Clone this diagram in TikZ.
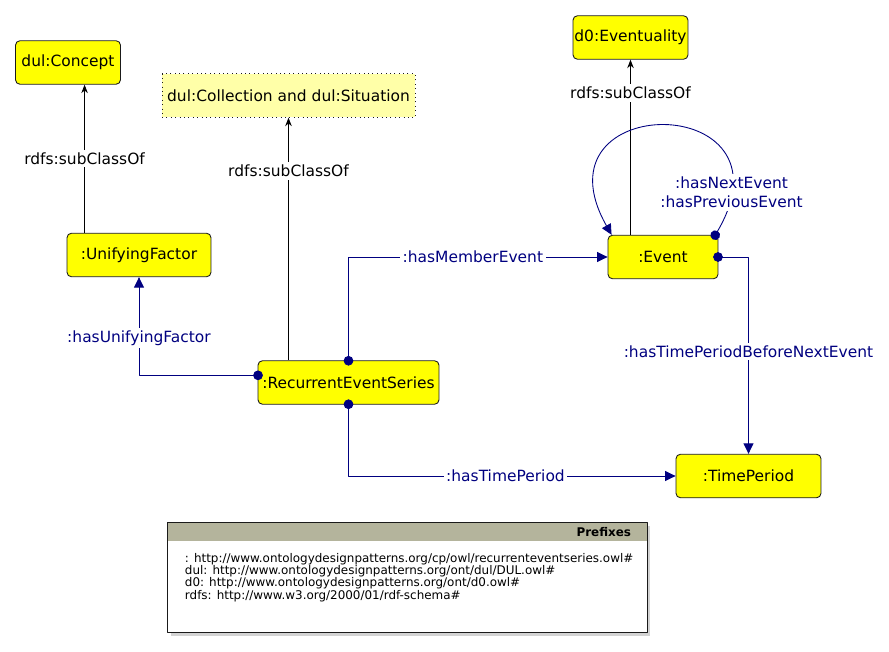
\documentclass[tikz,border=0pt]{standalone}
\usepackage{fontspec}
\setmainfont{DejaVu Sans}
\usepackage{tikz}
\usetikzlibrary{arrows.meta,positioning,calc,shadows}
\definecolor{ink}{HTML}{1A1A1A}
\definecolor{propcol}{HTML}{000080}
\definecolor{classfill}{HTML}{FFFF00}
\definecolor{anonfill}{HTML}{FFFFA8}
\definecolor{hdrcol}{HTML}{B4B49C}

\begin{document}
\begin{tikzpicture}[x=0.02cm, y=-0.02cm,
  font=\fontsize{8.8}{11}\selectfont, line join=round,
  cls/.style={draw=ink, fill=classfill, rounded corners=2.5pt, line width=0.5pt,
              minimum height=0.87cm, inner sep=0pt},
  anon/.style={cls, fill=anonfill, dotted, rounded corners=0pt},
  sub/.style={draw=black, line width=0.5pt, -{Stealth[length=1.7mm, width=1.3mm]}},
  prop/.style={draw=propcol, line width=0.5pt, shorten <=-3pt,
               {Circle[length=5.5pt]}-{Triangle[length=2.1mm, width=2mm]}},
  lbl/.style={fill=white, inner sep=1.5pt, text=black},
  plbl/.style={lbl, text=propcol},
  prefixbox/.style={draw=ink, fill=white, line width=0.5pt, inner sep=0pt,
                    drop shadow={shadow xshift=2pt, shadow yshift=-2pt, opacity=0.35},
                    path picture={\fill[hdrcol] (path picture bounding box.north west)
                      rectangle ([yshift=-0.38cm]path picture bounding box.north east);}}]
\useasboundingbox (0,0) rectangle (889,652);

% ==================================================== classes
\node[cls, minimum width=2.1cm] (concept) at (68,62.5) {dul:Concept};
\node[anon, minimum width=5.06cm] (coll) at (288.5,95.5) {dul:Collection and dul:Situation};
\node[cls, minimum width=2.3cm] (ev) at (630.5,37.5) {d0:Eventuality};
\node[cls, minimum width=2.88cm] (uf) at (139,255) {:UnifyingFactor};
\node[cls, minimum width=3.62cm] (res) at (348.5,382.5) {:RecurrentEventSeries};
\node[cls, minimum width=2.2cm] (event) at (663,257) {:Event};
\node[cls, minimum width=2.9cm] (tp) at (748.5,476) {:TimePeriod};

% ==================================================== subclass links
\coordinate (ufup) at ($(uf.north west)+(18,0)$);
\draw[sub] (ufup) -- (ufup |- concept.south)
  node[lbl, pos=0.5] {rdfs:subClassOf};
\draw[sub] (coll.south |- res.north) -- (coll.south)
  node[lbl, pos=0.78] {rdfs:subClassOf};
\draw[sub] (ev.south |- event.north) -- (ev.south)
  node[lbl, pos=0.81] {rdfs:subClassOf};

% ==================================================== object properties
\draw[prop] ($(res.north west)+(0,15)$) -| (uf.south)
  node[plbl, pos=0.69] {:hasUnifyingFactor};
\draw[prop] (res.north) |- (event.west)
  node[plbl, pos=0.74] {:hasMemberEvent};
\draw[prop] (res.south) |- (tp.west)
  node[plbl, pos=0.74] {:hasTimePeriod};
\draw[prop] (event.east) -| (tp.north)
  node[plbl, pos=0.74] {:hasTimePeriodBeforeNextEvent};

% the self loop on :Event
\coordinate (loopout) at ($(event.north east)+(-3,0)$);
\coordinate (loopin) at ($(event.north west)+(4,0)$);
\draw[prop] (loopout) .. controls ($(loopout)+(85,-145)$) and ($(loopin)+(-82,-145)$) .. (loopin)
  node[plbl, pos=0.11, align=center, font=\fontsize{8.8}{11.3}\selectfont]
  {:hasNextEvent\\:hasPreviousEvent};

% ==================================================== prefixes
\node[prefixbox, minimum width=9.6cm, minimum height=2.2cm] (prefixes) at (407,577) {};
\node[anchor=east, inner sep=0pt, font=\bfseries\fontsize{6.8}{8}\selectfont]
  (prefixhdr) at ($(prefixes.north east)+(-16,10)$) {Prefixes};
\node[anchor=north west, inner sep=0pt, align=left, font=\fontsize{6.8}{7.1}\selectfont]
  (prefixlist) at ($(prefixes.north west)+(18,31)$)
  {: http://www.ontologydesignpatterns.org/cp/owl/recurrenteventseries.owl\#\\
   dul: http://www.ontologydesignpatterns.org/ont/dul/DUL.owl\#\\
   d0: http://www.ontologydesignpatterns.org/ont/d0.owl\#\\
   rdfs: http://www.w3.org/2000/01/rdf-schema\#};

\end{tikzpicture}
\end{document}
